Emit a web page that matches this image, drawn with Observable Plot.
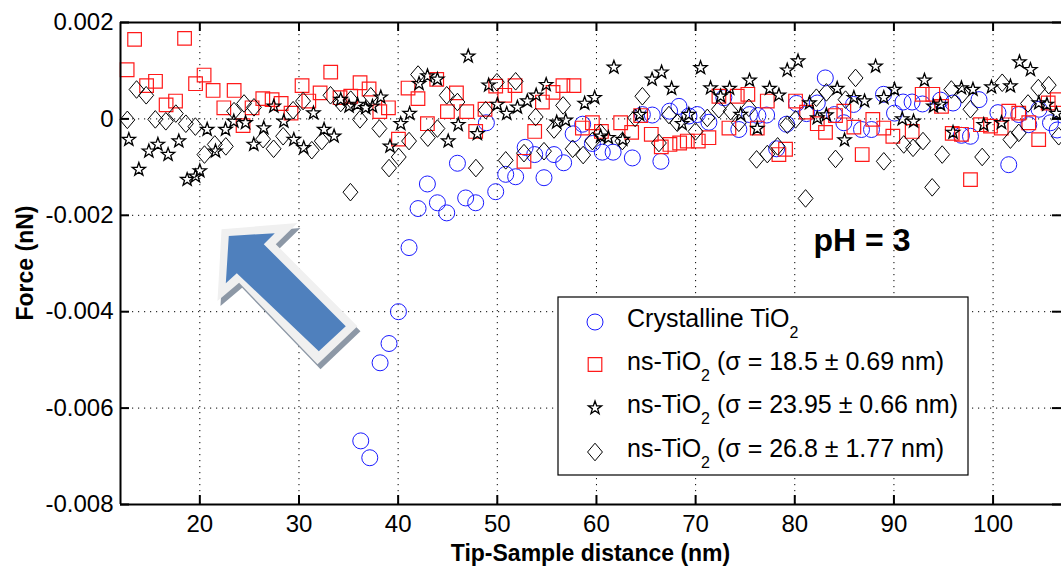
<!DOCTYPE html>
<html><head><meta charset="utf-8">
<script src="https://cdn.jsdelivr.net/npm/d3@7"></script>
<script src="https://cdn.jsdelivr.net/npm/@observablehq/plot@0.6"></script>
<style>html,body{margin:0;padding:0;background:#fff;} svg{display:block}</style>
</head><body><div id="chart"></div>
<script>
// ---------- data (x: tip-sample distance in nm, y: force in nN) ----------
const xTicks = [20, 30, 40, 50, 60, 70, 80, 90, 100];
const yTicks = [0.002, 0, -0.002, -0.004, -0.006, -0.008];

const crystalline = [
[36.23,-0.00668],[37.14,-0.00703],[38.18,-0.00506],[39.08,-0.00466],[40.03,-0.00400],[41.10,-0.00267],[42.01,-0.00186],[42.95,-0.00135],[43.96,-0.00174],[44.90,-0.00195],
[45.98,-0.00092],[46.81,-0.00164],[47.82,-0.00174],[48.90,-0.00008],[49.84,-0.00151],[50.85,-0.00115],[51.85,-0.00120],[52.81,-0.00059],[53.77,-0.00074],[54.71,-0.00122],
[55.72,-0.00074],[56.69,-0.00091],[57.65,-0.00031],[58.61,-0.00011],[59.59,-0.00051],[60.59,-0.00069],[61.68,-0.00069],[63.62,-0.00081],[64.63,0.00009],[65.63,0.00008],
[66.50,-0.00088],[67.38,0.00016],[68.32,0.00026],[69.33,0.00006],[70.17,0.00009],[71.34,-0.00007],[72.85,0.00044],[74.36,-0.00022],[75.44,0.00009],[76.28,0.00007],
[77.16,0.00008],[78.17,-0.00062],[79.17,-0.00011],[80.18,0.00032],[81.19,0.00011],[82.27,0.00033],[83.08,0.00085],[84.01,0.00009],[84.95,-0.00008],[85.93,0.00030],
[86.73,-0.00022],[87.74,-0.00022],[88.95,0.00051],[90.06,0.00012],[90.92,0.00035],[91.83,0.00035],[92.88,0.00031],[94.70,0.00039],[95.96,0.00033],[96.81,-0.00034],
[97.72,-0.00036],[98.58,0.00040],[100.49,0.00013],[101.58,-0.00095],[102.59,0.00009],[103.60,-0.00012],[104.63,0.00020],[105.79,-0.00008],[106.46,-0.00023]
];

const ns185 = [
[12.67,0.00102],[13.42,0.00165],[14.63,0.00069],[15.53,0.00078],[16.60,0.00029],[17.55,0.00037],[18.46,0.00167],[19.57,0.00073],[20.43,0.00091],[21.34,0.00059],
[22.42,0.00023],[23.46,0.00059],[24.36,-0.00014],[25.27,0.00023],[26.35,0.00042],[27.29,0.00040],[28.20,0.00032],[29.20,0.00012],[30.31,0.00069],[30.99,0.00037],
[32.13,0.00054],[33.20,0.00097],[34.14,0.00044],[35.22,0.00047],[36.16,0.00075],[37.07,0.00062],[38.15,0.00015],[39.02,0.00023],[40.03,-0.00042],[41.00,0.00064],
[42.00,0.00042],[42.95,-0.00010],[43.89,0.00082],[44.97,0.00015],[45.88,0.00054],[46.92,0.00015],[47.82,-0.00026],[48.76,0.00020],[49.84,0.00068],[50.75,0.00049],
[51.79,0.00069],[52.69,-0.00088],[53.77,-0.00026],[54.55,0.00035],[55.62,0.00055],[56.62,0.00069],[57.73,0.00069],[58.58,-0.00019],[59.59,-0.00008],[60.50,-0.00026],
[62.44,-0.00008],[63.55,-0.00028],[64.46,0.00007],[65.53,-0.00032],[66.54,-0.00058],[67.41,-0.00053],[68.39,-0.00050],[69.16,-0.00046],[70.27,-0.00046],[71.34,-0.00039],
[72.35,0.00047],[73.36,-0.00019],[74.20,0.00047],[75.27,0.00051],[76.22,-0.00019],[77.23,0.00037],[78.40,-0.00074],[79.07,-0.00063],[80.08,0.00037],[81.19,0.00014],
[82.27,-0.00010],[83.10,-0.00028],[84.11,0.00007],[84.95,0.00016],[85.96,-0.00017],[86.80,-0.00074],[87.87,-0.00001],[88.98,-0.00019],[89.89,-0.00036],[91.84,-0.00026],
[92.85,0.00051],[93.92,0.00051],[94.80,0.00026],[95.88,-0.00030],[96.81,-0.00032],[97.72,-0.00126],[98.73,-0.00012],[99.74,-0.00015],[100.82,-0.00019],[101.58,0.00016],
[102.59,0.00012],[103.60,-0.00008],[104.60,-0.00043],[105.56,0.00033],[106.47,0.00040]
];

const ns2395 = [
[12.84,-0.00043],[13.85,-0.00105],[14.86,-0.00067],[15.77,-0.00053],[16.80,-0.00074],[17.88,-0.00046],[18.72,-0.00126],[19.57,-0.00119],[20.00,-0.00108],[20.74,-0.00022],
[21.58,-0.00067],[22.59,-0.00022],[23.43,-0.00005],[24.61,-0.00008],[25.44,-0.00053],[26.45,-0.00019],[27.46,0.00026],[28.47,-0.00005],[29.48,-0.00043],[30.48,-0.00060],
[31.46,0.00012],[32.53,-0.00022],[33.54,-0.00036],[34.21,0.00040],[35.05,0.00026],[35.90,0.00030],[36.73,0.00023],[37.41,0.00026],[38.25,0.00045],[39.18,-0.00057],
[40.26,-0.00010],[41.16,0.00011],[42.11,0.00073],[42.96,0.00089],[43.96,0.00082],[45.05,-0.00046],[46.06,-0.00012],[47.07,0.00130],[47.99,-0.00031],[49.13,0.00070],
[50.01,0.00030],[50.95,0.00011],[52.03,0.00024],[53.03,0.00037],[53.92,0.00049],[54.93,0.00071],[55.99,-0.00007],[56.90,-0.00003],[58.81,0.00032],[59.82,0.00044],
[60.42,-0.00036],[61.20,-0.00039],[61.76,0.00107],[62.65,-0.00043],[64.35,0.00009],[65.61,0.00082],[66.57,0.00097],[67.58,0.00063],[68.64,-0.00010],[69.32,0.00009],
[70.50,0.00106],[71.51,0.00064],[72.52,0.00047],[73.43,0.00063],[74.54,0.00009],[75.44,0.00080],[76.22,-0.00020],[77.46,0.00063],[78.40,0.00049],[79.24,0.00101],
[80.33,0.00120],[81.49,0.00033],[82.27,0.00002],[83.19,0.00008],[84.28,0.00063],[85.02,-0.00044],[85.96,0.00044],[87.04,0.00037],[88.15,0.00109],[88.98,0.00044],
[90.06,0.00061],[90.84,0.00000],[91.98,-0.00005],[93.08,0.00080],[93.99,0.00026],[94.70,0.00030],[95.96,-0.00028],[96.81,0.00064],[97.97,0.00061],[99.06,-0.00012],
[99.84,0.00066],[100.85,-0.00008],[101.75,0.00068],[102.66,0.00118],[103.77,0.00102],[104.61,0.00033],[105.43,0.00030],[106.39,0.00011]
];

const ns268 = [
[12.69,-0.00002],[13.62,0.00061],[14.59,0.00049],[15.51,-0.00001],[16.57,-0.00005],[17.58,0.00011],[18.59,-0.00010],[19.55,-0.00016],[20.47,-0.00074],[21.51,-0.00053],
[22.62,-0.00057],[23.45,0.00016],[24.46,0.00032],[25.46,0.00024],[26.38,-0.00042],[27.44,-0.00062],[28.40,-0.00036],[29.41,0.00018],[30.41,0.00037],[31.29,-0.00065],
[32.30,-0.00046],[33.18,0.00049],[34.21,0.00033],[35.22,0.00040],[35.19,-0.00152],[36.15,-0.00001],[37.24,0.00047],[38.11,-0.00020],[39.08,-0.00102],[40.06,-0.00079],
[41.10,-0.00046],[42.01,0.00092],[43.00,-0.00039],[43.96,-0.00020],[44.90,0.00049],[45.98,0.00035],[47.84,-0.00102],[48.83,0.00018],[49.96,0.00076],[50.85,-0.00086],
[51.85,0.00078],[52.69,-0.00071],[53.87,0.00004],[54.71,-0.00067],[55.72,-0.00022],[56.64,0.00028],[57.60,-0.00062],[58.66,-0.00075],[59.59,-0.00046],[60.42,-0.00029],
[62.61,-0.00046],[63.90,0.00002],[64.63,0.00047],[66.30,-0.00050],[67.31,0.00008],[68.15,-0.00008],[69.99,-0.00026],[71.18,0.00002],[72.35,0.00020],[73.53,0.00016],
[74.36,-0.00008],[75.37,0.00023],[76.15,-0.00084],[77.23,-0.00073],[78.27,-0.00057],[79.25,-0.00012],[80.08,-0.00001],[81.09,-0.00165],[82.18,0.00044],[83.19,0.00055],
[84.11,-0.00083],[85.12,0.00040],[86.13,0.00085],[88.98,-0.00088],[90.99,-0.00053],[91.93,-0.00060],[92.93,-0.00046],[93.86,-0.00142],[94.87,-0.00074],[95.79,0.00061],
[96.89,0.00051],[97.72,0.00020],[98.90,-0.00079],[100.92,0.00075],[101.75,-0.00043],[102.59,-0.00029],[103.52,0.00032],[104.56,0.00064],[105.61,0.00070],[106.62,-0.00036]
];

// annotation arrow (in data units)
const arrowOutline = [[22.19,-0.00229],[29.85,-0.00216],[27.66,-0.00260],[35.90,-0.00430],[31.87,-0.00509],[23.96,-0.00340],[21.78,-0.00378]];
const arrowBody = [[22.92,-0.00243],[27.56,-0.00237],[26.45,-0.00260],[34.72,-0.00430],[32.00,-0.00482],[23.73,-0.00320],[22.62,-0.00341]];

const legendLabels = [
  ["Crystalline TiO", "2", ""],
  ["ns-TiO", "2", " (\u03C3 = 18.5 \u00B1 0.69 nm)"],
  ["ns-TiO", "2", " (\u03C3 = 23.95 \u00B1 0.66 nm)"],
  ["ns-TiO", "2", " (\u03C3 = 26.8 \u00B1 1.77 nm)"]
];
const xLabel = "Tip-Sample distance (nm)";
const yLabel = "Force (nN)";
const phLabel = "pH = 3";

// ---------- symbols (MATLAB-like markers) ----------
const symCircle = {draw(c, size){const r = Math.sqrt(size/Math.PI); c.moveTo(r,0); c.arc(0,0,r,0,2*Math.PI); c.closePath();}};
const symSquare = {draw(c, size){const r = Math.sqrt(size/Math.PI)*0.85; c.moveTo(-r,-r); c.lineTo(r,-r); c.lineTo(r,r); c.lineTo(-r,r); c.closePath();}};
const symDiamond = {draw(c, size){const r = Math.sqrt(size/Math.PI); const w = r*0.93, h = r*1.1; c.moveTo(0,-h); c.lineTo(w,0); c.lineTo(0,h); c.lineTo(-w,0); c.closePath();}};
const symStar = {draw(c, size){const R = Math.sqrt(size/Math.PI)*0.87, ri = R*0.4;
  for (let i=0;i<10;i++){const a = -Math.PI/2 + i*Math.PI/5; const rr = i%2 ? ri : R; const x = rr*Math.cos(a), y = rr*Math.sin(a); i ? c.lineTo(x,y) : c.moveTo(x,y);} c.closePath();}};

const W = 1061, H = 568, mL = 120, mR = 0, mT = 22, mB = 64;
const plotW = W - mL - mR, plotH = H - mT - mB;
const xDomain = [12, 106.9], yDomain = [-0.008, 0.002];
const font = "'Liberation Sans', Arial, Helvetica, sans-serif";
const gridStyle = {stroke: "#000", strokeOpacity: 1, strokeWidth: 1, strokeDasharray: "1.2,4.8"};
const px = d => d[0], py = d => d[1];

const chart = Plot.plot({
  width: W, height: H,
  marginLeft: mL, marginRight: mR, marginTop: mT, marginBottom: mB,
  x: {domain: xDomain}, y: {domain: yDomain},
  style: {fontFamily: font, fontSize: "24px", background: "white", color: "black"},
  marks: [
    Plot.gridX(xTicks, gridStyle),
    Plot.gridY(yTicks, gridStyle),
    Plot.line(arrowOutline, {x: px, y: py, fill: "#8d98a6", stroke: "none", dx: 3, dy: 5}),
    Plot.line(arrowOutline, {x: px, y: py, fill: "#f0f0f0", stroke: "none"}),
    Plot.line(arrowBody, {x: px, y: py, fill: "#4f80bd", stroke: "none"}),
    Plot.dot(crystalline, {x: px, y: py, r: 8, symbol: symCircle, stroke: "#1a1aff", strokeWidth: 1, fill: "none"}),
    Plot.dot(ns185, {x: px, y: py, r: 8, symbol: symSquare, stroke: "#ff1a1a", strokeWidth: 1.2, fill: "none"}),
    Plot.dot(ns2395, {x: px, y: py, r: 8, symbol: symStar, stroke: "#000", strokeWidth: 1.3, fill: "none"}),
    Plot.dot(ns268, {x: px, y: py, r: 8, symbol: symDiamond, stroke: "#000", strokeWidth: 1, fill: "none"}),
    Plot.ruleX([xDomain[0]], {stroke: "#000", strokeWidth: 2}),
    Plot.ruleY(yDomain, {stroke: "#000", strokeWidth: 2}),
    Plot.tickX(xTicks, {x: d => d, insetTop: plotH - 9, stroke: "#000", strokeWidth: 2}),
    Plot.tickX(xTicks, {x: d => d, insetBottom: plotH - 9, stroke: "#000", strokeWidth: 2}),
    Plot.tickY(yTicks, {y: d => d, insetRight: plotW - 9, stroke: "#000", strokeWidth: 2}),
    Plot.tickY(yTicks, {y: d => d, insetLeft: plotW - 9, stroke: "#000", strokeWidth: 2}),
    Plot.axisX(xTicks, {anchor: "bottom", tickSize: 0, tickPadding: 10, label: null}),
    Plot.axisY(yTicks, {anchor: "left", tickSize: 0, tickPadding: 7, label: null, tickFormat: d => d === 0 ? "0" : d.toFixed(3)})
  ]
});
document.getElementById("chart").appendChild(chart);

// ---------- overlay texts & legend ----------
const svg = d3.select(chart);
const g = svg.append("g").attr("font-family", font).attr("fill", "#000");
g.append("text").attr("x", (mL + W) / 2).attr("y", 561).attr("text-anchor", "middle")
  .attr("font-size", 23).attr("font-weight", "bold").text(xLabel);
g.append("text").attr("transform", `translate(33,${(mT + H - mB) / 2}) rotate(-90)`).attr("text-anchor", "middle")
  .attr("font-size", 23).attr("font-weight", "bold").text(yLabel);
g.append("text").attr("x", 862).attr("y", 251).attr("text-anchor", "middle")
  .attr("font-size", 32).attr("font-weight", "bold").text(phLabel);

const leg = g.append("g");
leg.append("rect").attr("x", 558).attr("y", 297).attr("width", 410).attr("height", 178)
  .attr("fill", "white").attr("stroke", "#000").attr("stroke-width", 1.2);
const legSyms = [[symCircle, "#1a1aff", 1], [symSquare, "#ff1a1a", 1.2], [symStar, "#000", 1.3], [symDiamond, "#000", 1]];
const rowY = [322, 364.5, 408, 452];
legendLabels.forEach((lab, i) => {
  const p = d3.path(); legSyms[i][0].draw(p, Math.PI * 64);
  leg.append("path").attr("d", p.toString()).attr("transform", `translate(595,${rowY[i]})`)
    .attr("fill", "none").attr("stroke", legSyms[i][1]).attr("stroke-width", legSyms[i][2]);
  const t = leg.append("text").attr("x", 627).attr("y", rowY[i] + 5).attr("font-size", 25).attr("text-anchor", "start");
  t.append("tspan").text(lab[0]);
  t.append("tspan").attr("dy", 11).attr("font-size", 16).text(lab[1]);
  if (lab[2]) t.append("tspan").attr("dy", -11).text(lab[2]);
});
</script>
</body></html>
